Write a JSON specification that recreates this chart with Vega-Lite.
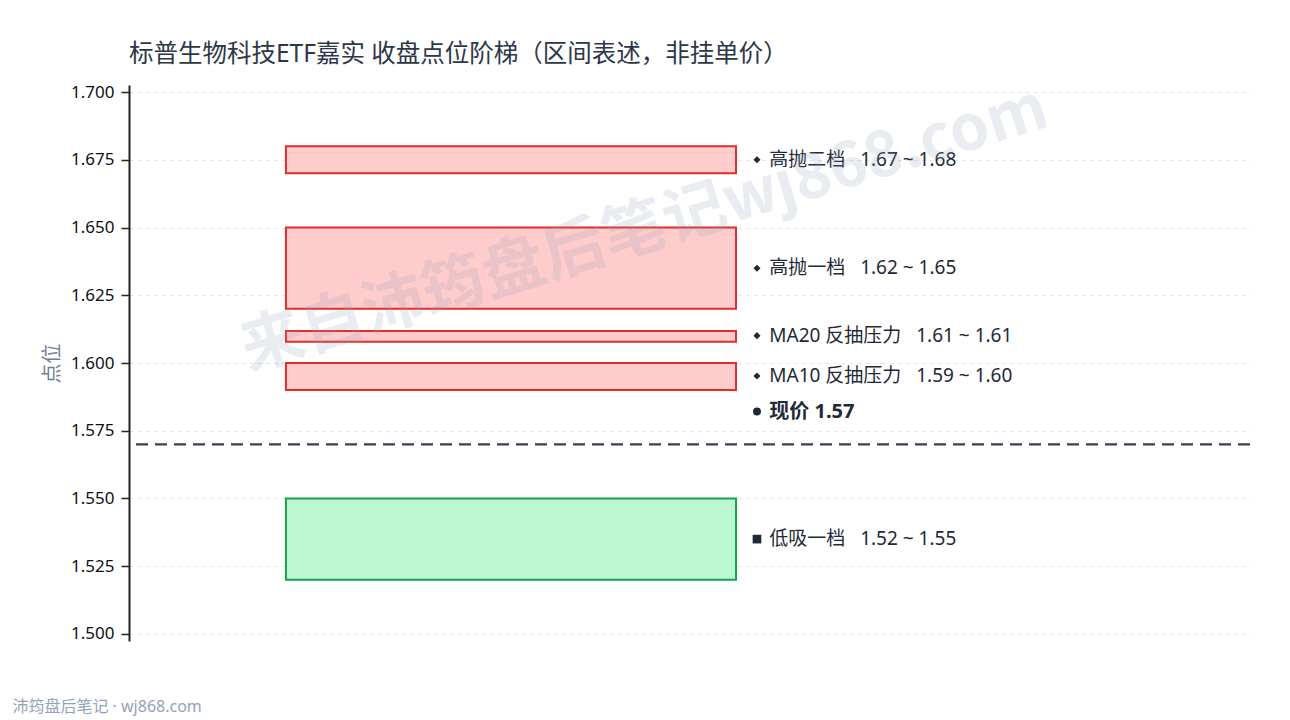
{
  "$schema": "https://vega.github.io/schema/vega-lite/v6.json",
  "autosize": {"type": "none"},
  "width": 1121,
  "height": 556,
  "padding": {"left": 129, "top": 85, "right": 40, "bottom": 79},
  "background": "white",
  "config": {
    "font": "Noto Sans, Noto Sans CJK SC",
    "view": {"stroke": null},
    "axis": {"labelFont": "Noto Sans, Noto Sans CJK SC", "titleFont": "Noto Sans, Noto Sans CJK SC"}
  },
  "title": {
    "text": "标普生物科技ETF嘉实 收盘点位阶梯（区间表述，非挂单价）",
    "anchor": "start",
    "frame": "group",
    "font": "Noto Sans, Noto Sans CJK SC",
    "fontSize": 24.5,
    "fontWeight": "normal",
    "color": "#2d3748",
    "baseline": "alphabetic",
    "offset": -9
  },
  "datasets": {
    "zones": [
      {"name": "高抛二档", "lo": 1.67, "hi": 1.68, "kind": "sell", "x0": 0.14, "x1": 0.5415},
      {"name": "高抛一档", "lo": 1.62, "hi": 1.65, "kind": "sell", "x0": 0.14, "x1": 0.5415},
      {"name": "MA20 反抽压力", "lo": 1.6078, "hi": 1.6118, "kind": "sell", "x0": 0.14, "x1": 0.5415},
      {"name": "MA10 反抽压力", "lo": 1.59, "hi": 1.6, "kind": "sell", "x0": 0.14, "x1": 0.5415},
      {"name": "低吸一档", "lo": 1.52, "hi": 1.55, "kind": "buy", "x0": 0.14, "x1": 0.5415}
    ],
    "labels": [
      {"text": "高抛二档\u00a0\u00a0 1.67 ~ 1.68", "y": 1.675, "marker": "diamond", "bx": 0.5602, "tx": 0.5712, "bold": 0},
      {"text": "高抛一档\u00a0\u00a0 1.62 ~ 1.65", "y": 1.635, "marker": "diamond", "bx": 0.5602, "tx": 0.5712, "bold": 0},
      {"text": "MA20 反抽压力\u00a0\u00a0 1.61 ~ 1.61", "y": 1.6101, "marker": "diamond", "bx": 0.5602, "tx": 0.5712, "bold": 0},
      {"text": "MA10 反抽压力\u00a0\u00a0 1.59 ~ 1.60", "y": 1.5952, "marker": "diamond", "bx": 0.5602, "tx": 0.5712, "bold": 0},
      {"text": "现价 1.57", "y": 1.5821, "marker": "circle", "bx": 0.5602, "tx": 0.5712, "bold": 1},
      {"text": "低吸一档\u00a0\u00a0 1.52 ~ 1.55", "y": 1.535, "marker": "square", "bx": 0.5602, "tx": 0.5712, "bold": 0}
    ],
    "price": [{"price": 1.57}],
    "notes": [
      {"kind": "watermark", "text": "来自沛筠盘后笔记wj868.com", "x": 0.46, "y": 1.6491},
      {"kind": "footer", "text": "沛筠盘后笔记 · wj868.com", "x": -0.104, "y": 1.4731}
    ]
  },
  "layer": [
    {
      "data": {"name": "zones"},
      "mark": {"type": "rect", "strokeWidth": 2, "clip": false},
      "encoding": {
        "x": {"field": "x0", "type": "quantitative", "scale": {"domain": [0, 1]}, "axis": null},
        "x2": {"field": "x1"},
        "y": {
          "field": "lo",
          "type": "quantitative",
          "scale": {"domain": [1.4974, 1.7026], "nice": false, "zero": false},
          "axis": {
            "values": [1.5, 1.525, 1.55, 1.575, 1.6, 1.625, 1.65, 1.675, 1.7],
            "format": ".3f",
            "title": "点位",
            "titleColor": "#718096",
            "titleFontSize": 20,
            "titleFontWeight": "normal",
            "titlePadding": 8,
            "labelFontSize": 17,
            "labelColor": "#111111",
            "labelPadding": 7,
            "domainColor": "#222222",
            "domainWidth": 2,
            "tickColor": "#222222",
            "tickWidth": 1.5,
            "tickSize": 8,
            "grid": true,
            "gridColor": "#e2e4e8",
            "gridDash": [4, 4],
            "gridWidth": 1
          }
        },
        "y2": {"field": "hi"},
        "fill": {"field": "kind", "type": "nominal", "scale": {"domain": ["sell", "buy"], "range": ["#ffcccc", "#bbf7d0"]}, "legend": null},
        "stroke": {"field": "kind", "type": "nominal", "scale": {"domain": ["sell", "buy"], "range": ["#e02d2d", "#16a34a"]}, "legend": null}
      }
    },
    {
      "data": {"name": "price"},
      "mark": {"type": "rule", "color": "#374151", "strokeWidth": 2.2, "strokeDash": [12, 7]},
      "encoding": {"y": {"field": "price", "type": "quantitative"}}
    },
    {
      "data": {"name": "labels"},
      "mark": {"type": "point", "filled": true, "color": "#1f2937", "opacity": 1},
      "encoding": {
        "x": {"field": "bx", "type": "quantitative"},
        "y": {"field": "y", "type": "quantitative"},
        "shape": {"field": "marker", "type": "nominal", "scale": null},
        "size": {"field": "marker", "type": "nominal", "scale": {"domain": ["diamond", "circle", "square"], "range": [50, 75, 64]}, "legend": null}
      }
    },
    {
      "data": {"name": "labels"},
      "transform": [{"filter": "datum.bold == 0"}],
      "mark": {"type": "text", "align": "left", "baseline": "middle", "fontSize": 19, "color": "#1f2937"},
      "encoding": {
        "x": {"field": "tx", "type": "quantitative"},
        "y": {"field": "y", "type": "quantitative"},
        "text": {"field": "text"}
      }
    },
    {
      "data": {"name": "labels"},
      "transform": [{"filter": "datum.bold == 1"}],
      "mark": {"type": "text", "align": "left", "baseline": "middle", "fontSize": 20, "fontWeight": "bold", "color": "#1f2937"},
      "encoding": {
        "x": {"field": "tx", "type": "quantitative"},
        "y": {"field": "y", "type": "quantitative"},
        "text": {"field": "text"}
      }
    },
    {
      "data": {"name": "notes"},
      "transform": [{"filter": "datum.kind == 'watermark'"}],
      "mark": {"type": "text", "align": "center", "baseline": "middle", "font": "Noto Sans CJK SC", "fontSize": 63, "fontWeight": "bold", "angle": 343, "color": "#94a3b8", "opacity": 0.2},
      "encoding": {
        "x": {"field": "x", "type": "quantitative"},
        "y": {"field": "y", "type": "quantitative"},
        "text": {"field": "text"}
      }
    },
    {
      "data": {"name": "notes"},
      "transform": [{"filter": "datum.kind == 'footer'"}],
      "mark": {"type": "text", "align": "left", "baseline": "middle", "fontSize": 16, "color": "#94a3b8", "clip": false},
      "encoding": {
        "x": {"field": "x", "type": "quantitative"},
        "y": {"field": "y", "type": "quantitative"},
        "text": {"field": "text"}
      }
    }
  ]
}
